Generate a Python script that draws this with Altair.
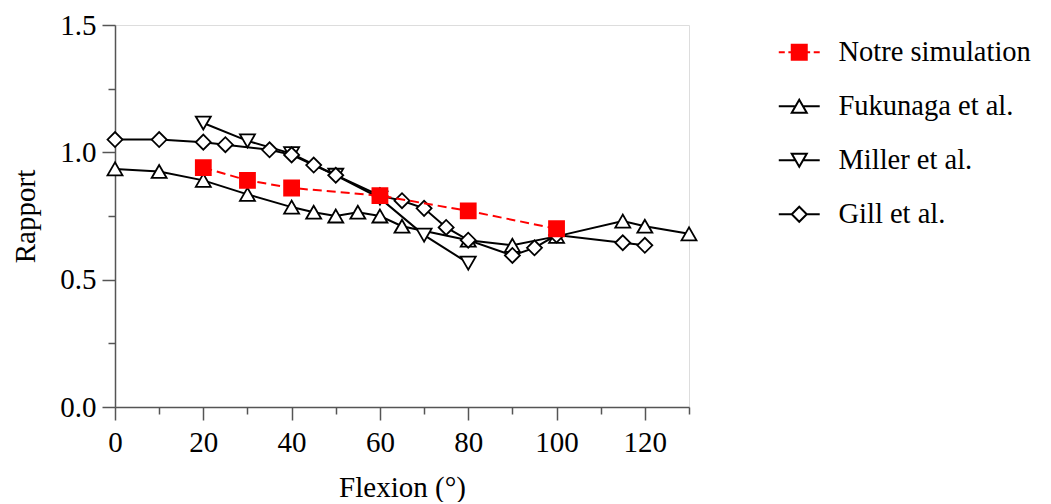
import altair as alt
import pandas as pd

series_names = ["Notre simulation", "Fukunaga et al.", "Miller et al.", "Gill et al."]

sim_x = [20, 30, 40, 60, 80, 100]
sim_y = [0.94, 0.89, 0.86, 0.83, 0.77, 0.70]

fuk_x = [0, 10, 20, 30, 40, 45, 50, 55, 60, 65, 80, 90, 100, 115, 120, 130]
fuk_y = [0.935, 0.925, 0.89, 0.835, 0.785, 0.765, 0.75, 0.765, 0.75, 0.71, 0.655, 0.635, 0.67, 0.73, 0.71, 0.68]

mil_x = [20, 30, 40, 50, 60, 70, 80]
mil_y = [1.115, 1.045, 0.995, 0.91, 0.82, 0.675, 0.565]

gil_x = [0, 10, 20, 25, 35, 40, 45, 50, 60, 65, 70, 75, 80, 90, 95, 100, 115, 120]
gil_y = [1.05, 1.05, 1.04, 1.03, 1.01, 0.99, 0.95, 0.91, 0.83, 0.81, 0.78, 0.705, 0.655, 0.595, 0.625, 0.675, 0.645, 0.635]

x_ticks = list(range(0, 131, 10))
y_ticks = [0.0, 0.25, 0.5, 0.75, 1.0, 1.25, 1.5]

FONT = "Liberation Serif"
AXC = "#555555"


def frame(name, xs, ys):
    return pd.DataFrame({"series": name, "flexion": xs, "rapport": ys})


df_sim = frame(series_names[0], sim_x, sim_y)
df_fuk = frame(series_names[1], fuk_x, fuk_y)
df_mil = frame(series_names[2], mil_x, mil_y)
df_gil = frame(series_names[3], gil_x, gil_y)
df_all = pd.concat([df_sim, df_fuk, df_mil, df_gil], ignore_index=True)

X = alt.X(
    "flexion:Q",
    scale=alt.Scale(domain=[0, 130], nice=False, zero=True),
    axis=alt.Axis(
        values=x_ticks,
        labelExpr="datum.value % 20 === 0 ? datum.label : ''",
        tickSize={"condition": {"test": "datum.value % 20 === 0", "value": 13}, "value": 7},
        grid=False,
        domainColor=AXC, tickColor=AXC, domainWidth=1.5, tickWidth=1.5,
        labelFont=FONT, labelFontSize=29, labelColor="black", labelPadding=8,
        labelOverlap=False, labelFlush=False,
        title="Flexion (°)", titleFont=FONT, titleFontSize=29,
        titleFontWeight="normal", titleColor="black", titlePadding=16,
    ),
)
Y = alt.Y(
    "rapport:Q",
    scale=alt.Scale(domain=[0, 1.5], nice=False, zero=True),
    axis=alt.Axis(
        values=y_ticks,
        format=".1f",
        labelExpr="round(datum.value * 100) % 50 === 0 ? datum.label : ''",
        tickSize={"condition": {"test": "round(datum.value * 100) % 50 === 0", "value": 13}, "value": 7},
        grid=False,
        domainColor=AXC, tickColor=AXC, domainWidth=1.5, tickWidth=1.5,
        labelFont=FONT, labelFontSize=29, labelColor="black", labelPadding=6,
        labelOverlap=False, labelFlush=False,
        title="Rapport", titleFont=FONT, titleFontSize=29,
        titleFontWeight="normal", titleColor="black", titlePadding=19,
    ),
)


def series(df, shape, color, fill, dash=None):
    base = alt.Chart(df).encode(x=X, y=Y)
    lkw = dict(color=color, strokeWidth=2)
    if dash:
        lkw["strokeDash"] = dash
    line = base.mark_line(**lkw)
    pts = base.mark_point(shape=shape, filled=True, fill=fill, stroke=color,
                          strokeWidth=1.8, size=225, opacity=1)
    return [line, pts]


leg_paths = [
    "M-2.73,0H-1.93M-1.45,0H-1M1,0H1.45M1.93,0H2.73M-1,-1H1V1H-1Z",
    "M-2.73,0H-0.5M0.5,0H2.73M0,-0.866L-1,0.866L1,0.866Z",
    "M-2.73,0H-0.5M0.5,0H2.73M0,0.866L-1,-0.866L1,-0.866Z",
    "M-2.73,0H-1M1,0H2.73M0,-1L1,0L0,1L-1,0Z",
]
leg = alt.Legend(
    title=None, orient="none", legendX=670, legendY=13,
    labelFont=FONT, labelFontSize=28.5, labelColor="black", labelOffset=25,
    labelLimit=0,
    symbolSize=225, symbolStrokeWidth=2, rowPadding=25, symbolOpacity=1,
)
legend_layer = alt.Chart(df_all).mark_point(opacity=0).encode(
    x=X, y=Y,
    shape=alt.Shape("series:N", scale=alt.Scale(domain=series_names, range=leg_paths), legend=leg),
    fill=alt.Fill("series:N", scale=alt.Scale(domain=series_names, range=["#ff0000", "white", "white", "white"]), legend=leg),
    stroke=alt.Stroke("series:N", scale=alt.Scale(domain=series_names, range=["#ff0000", "black", "black", "black"]), legend=leg),
)

layers = []
layers += series(df_fuk, "triangle-up", "black", "white")
layers += series(df_mil, "triangle-down", "black", "white")
layers += series(df_gil, "diamond", "black", "white")
layers += series(df_sim, "square", "#ff0000", "#ff0000", dash=[9, 5])
layers.append(legend_layer)

chart = alt.layer(*layers).properties(
    width=574, height=382,
    padding={"left": 107, "top": 17, "right": 354, "bottom": 95},
    autosize=alt.AutoSizeParams(type="none"),
).configure_view(stroke=None).configure(background="white")

chart.save("out.html", embed_options={"renderer": "svg", "actions": False})
